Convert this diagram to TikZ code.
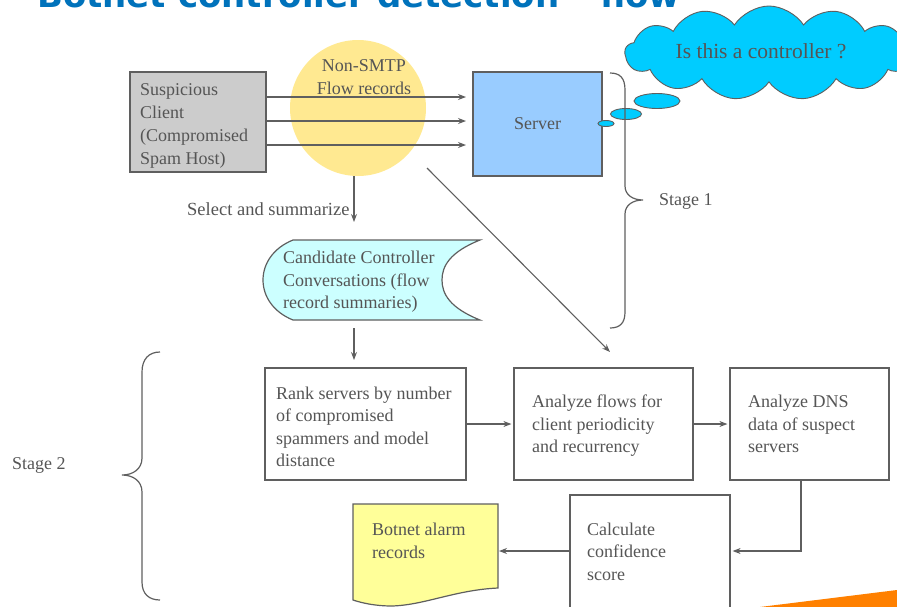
\documentclass[tikz,border=0pt]{standalone}
\usepackage{fontspec}
\setmainfont{Liberation Serif}
\newfontfamily\headfont{DejaVu Sans}
\usetikzlibrary{shapes.symbols,shapes.geometric,arrows.meta}

\definecolor{ink}{RGB}{85,85,85}
\definecolor{edge}{RGB}{95,95,95}
\definecolor{headblue}{RGB}{0,114,187}
\definecolor{clientgray}{RGB}{204,204,204}
\definecolor{serverblue}{RGB}{153,204,255}
\definecolor{bubble}{RGB}{0,204,255}
\definecolor{flowyellow}{RGB}{255,233,145}
\definecolor{convcyan}{RGB}{204,255,255}
\definecolor{alarmyellow}{RGB}{255,255,153}
\definecolor{wedge}{RGB}{255,128,0}

\begin{document}
\begin{tikzpicture}[x=1pt,y=-1pt,
  txt/.style={font=\fontsize{18}{22.5}\selectfont, text=ink},
  lines/.style={txt, align=left, anchor=west, inner sep=0pt},
  panel/.style={draw=edge, line width=1.2pt, inner sep=0pt},
  conn/.style={draw=edge, line width=1.1pt, -{Stealth[length=8pt,width=6pt]}},
  bracket/.style={draw=edge, line width=1.2pt},
  puff/.style={draw=edge, line width=0.9pt, fill=bubble, ellipse, inner sep=0pt}]
\useasboundingbox (0,0) rectangle (897,606);
\clip (0,0) rectangle (897,606);

% heading, mostly above the page edge
\node[anchor=base west, inner sep=0pt, text=headblue,
      font=\headfont\bfseries\fontsize{34}{36}\selectfont] (heading) at (37,7)
  {Botnet controller detection – flow};

% thought cloud with its trail of bubbles
\node[cloud, cloud puffs=13, cloud puff arc=115, aspect=3.2, draw=edge,
      line width=0.9pt, fill=bubble, minimum width=288pt, minimum height=94pt,
      inner sep=0pt] (cloud) at (769,53) {};
\node[txt, font=\fontsize{21.5}{24}\selectfont] (question) at (761,51) {Is this a controller ?};
\node[puff, minimum width=46pt, minimum height=15pt] (b3) at (657,101) {};
\node[puff, minimum width=31pt, minimum height=11pt] (b2) at (626,114) {};

% hosts
\node[panel, fill=clientgray, minimum width=136pt, minimum height=100pt] (client) at (198,122) {};
\node[lines, font=\fontsize{18}{23}\selectfont] (clienttext) at (140,125.5)
  {Suspicious\\Client\\(Compromised\\Spam Host)};
\node[txt, panel, fill=serverblue, minimum width=129pt,
      minimum height=104pt] (server) at (537.5,124) {Server};
\node[puff, minimum width=16pt, minimum height=6pt] (b1) at (606,123.5) {};

% flow records
\node[circle, fill=flowyellow, minimum size=136pt, inner sep=0pt] (flows) at (358,108) {};
\node[txt, align=center] (flowlabel) at (364,77) {Non-SMTP\\Flow records};

\coordinate (t1) at (466,97);
\coordinate (t2) at (466,121);
\coordinate (t3) at (466,145);
\draw[conn] (client.east |- t1) -- (t1);
\draw[conn] (client.east |- t2) -- (t2);
\draw[conn] (client.east |- t3) -- (t3);

% stage 1 bracket
\draw[bracket] (610,73) .. controls (620,73) and (625,78) .. (625,90)
  -- (625,186) .. controls (625,195) and (633,200) .. (643,200)
  .. controls (633,200) and (625,205) .. (625,214)
  -- (625,312) .. controls (625,323) and (620,328) .. (610,328);
\node[txt, anchor=west, inner sep=0pt] (stage1) at (659,201) {Stage 1};

% selection step
\coordinate (s0) at (354,176);
\coordinate (s1) at (354,222);
\draw[conn] (s0) -- (s1);
\node[txt, anchor=west, inner sep=0pt, font=\fontsize{18.5}{22.5}\selectfont] (select) at (187,209) {Select and summarize};

% candidate conversations (stored data)
\filldraw[draw=edge, line width=1.2pt, fill=convcyan]
  (293,240) -- (480,240) .. controls (450,252) and (442,266) .. (442,280)
  .. controls (442,294) and (450,308) .. (480,320) -- (293,320)
  .. controls (273,312) and (263,296) .. (263,280)
  .. controls (263,264) and (273,248) .. (293,240) -- cycle;
\node[lines] (cand) at (283,282)
  {Candidate Controller\\Conversations (flow\\record summaries)};

% stage 2 boxes
\node[panel, minimum width=201pt, minimum height=112pt] (rank) at (365.5,424) {};
\node[lines] (ranktext) at (276,427)
  {Rank servers by number\\of compromised\\spammers and model\\distance};
\node[panel, minimum width=179pt, minimum height=112pt] (period) at (603.5,424) {};
\node[lines] (periodtext) at (532,426)
  {Analyze flows for\\client periodicity\\and recurrency};
\node[panel, minimum width=159pt, minimum height=112pt] (dns) at (809.5,424) {};
\node[lines] (dnstext) at (748,424)
  {Analyze DNS\\data of suspect\\servers};
\node[panel, minimum width=160pt, minimum height=114pt] (score) at (650,552) {};
\node[lines] (scoretext) at (587,551.5)
  {Calculate\\confidence\\score};

% alarm records (document)
\filldraw[draw=edge, line width=1.2pt, fill=alarmyellow]
  (353,504) -- (498,504) -- (498,588)
  .. controls (455,590) and (425,605) .. (392,606)
  .. controls (375,606) and (362,603) .. (353,600) -- cycle;
\node[lines] (alarm) at (372,541)
  {Botnet alarm\\records};

% connectors
\coordinate (c0) at (354,328);
\coordinate (c1) at (354,360);
\draw[conn] (c0) -- (c1);
\coordinate (d0) at (427,168);
\coordinate (d1) at (610,352);
\draw[conn] (d0) -- (d1);
\draw[conn] (rank.east) -- ([xshift=-2pt]period.west);
\draw[conn] (period.east) -- ([xshift=-2pt]dns.west);
\coordinate (bend) at (801,551);
\draw[conn] (dns.south -| bend) -- (bend) -- ([xshift=2pt]score.east |- bend);
\coordinate (a1) at (499,551);
\draw[conn] (score.west |- bend) -- (a1);

% stage 2 bracket
\draw[bracket] (160,352) .. controls (149,352) and (142,359) .. (142,372)
  -- (142,458) .. controls (142,469) and (133,475) .. (122,475)
  .. controls (133,475) and (142,481) .. (142,492)
  -- (142,582) .. controls (142,594) and (149,600) .. (160,600);
\node[txt, anchor=west, inner sep=0pt] (stage2) at (12,465) {Stage 2};

% corner accent
\fill[wedge] (760,607) -- (897,590) -- (897,607) -- cycle;
\end{tikzpicture}
\end{document}
